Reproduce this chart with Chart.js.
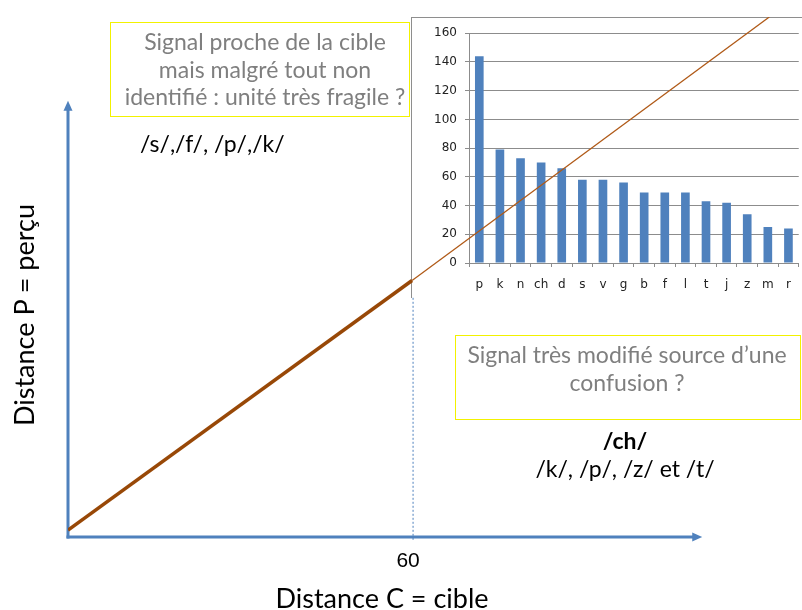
<!DOCTYPE html>
<html><head><meta charset="utf-8">
<script src="https://cdn.jsdelivr.net/npm/chart.js@4.4.1/dist/chart.umd.min.js"></script>
<style>
html,body{margin:0;padding:0;background:#fff;}
#stage{position:relative;width:802px;height:610px;overflow:hidden;background:#fff;font-family:Lato,'Open Sans',sans-serif;}
.abs{position:absolute;}
#insetFrame{left:411px;top:17px;width:391px;height:281px;background:#fff;border-left:1px solid #8e8e8e;border-top:1px solid #8e8e8e;box-sizing:border-box;z-index:1}
#barCanvas{left:412px;top:18px;z-index:2}
#mainCanvas{left:0;top:0;z-index:3;pointer-events:none}
.box{border:1.5px solid #f2f200;box-sizing:border-box;z-index:4}
.note{color:#7f7f7f;text-align:center;font-size:23px;line-height:27.5px;white-space:nowrap;z-index:5}
.txt{color:#000;white-space:nowrap;z-index:5}
</style></head>
<body>
<div id="stage">
  <div id="insetFrame" class="abs"></div>
  <canvas id="barCanvas" class="abs" width="390" height="280"></canvas>
  <canvas id="mainCanvas" class="abs" width="802" height="610"></canvas>

  <div class="abs box" style="left:110px;top:22px;width:300px;height:95px;"></div>
  <div class="abs note" style="left:65px;top:28px;width:400px;">Signal proche de la cible<br>mais malgré tout non<br>identifié : unité très fragile ?</div>

  <div class="abs txt" style="left:140px;top:129px;font-size:23px;line-height:28px;">/s/,/f/, /p/,/k/</div>

  <div class="abs box" style="left:455px;top:335px;width:346px;height:85px;"></div>
  <div class="abs note" style="left:427px;top:340px;width:400px;line-height:28px;">Signal très modifié source d’une<br>confusion ?</div>

  <div class="abs txt" style="left:425px;top:426px;width:400px;text-align:center;font-size:23px;line-height:28px;"><b>/ch/</b><br>/k/, /p/, /z/ et /t/</div>

  <div class="abs txt" style="left:182px;top:582px;width:400px;text-align:center;font-size:27px;line-height:32px;">Distance C = cible</div>
  <div class="abs txt" style="left:-176px;top:299px;width:400px;text-align:center;font-size:27px;line-height:32px;transform:rotate(-90deg);">Distance P = perçu</div>
</div>
<script>
// ---- main diagram data (distance cible vs distance perçue) ----
const mainCible = [0, 60, 122.3];
const mainPercu = [1.2, 44.4, 90];
const mainTickLabels = [60];

// ---- inset bar chart data ----
const phonemes = ['p','k','n','ch','d','s','v','g','b','f','l','t','j','z','m','r'];
const scores = [144, 79, 73, 70, 66, 58, 58, 56, 49, 49, 49, 43, 42, 34, 25, 24];
const scoreTicks = [0, 20, 40, 60, 80, 100, 120, 140, 160];

const BLUE = '#4f81bd';
const GRID = '#8c8c8c';

const axesPlugin = {
  id: 'axesArrows',
  beforeDatasetsDraw(chart) {
    const {ctx, scales: {x, y}} = chart;
    const x0 = x.getPixelForValue(0), y0 = y.getPixelForValue(0);
    const xTip = x.getPixelForValue(110.6), yTip = y.getPixelForValue(75.5);
    ctx.save();
    ctx.strokeStyle = BLUE; ctx.fillStyle = BLUE; ctx.lineWidth = 3;
    ctx.beginPath(); ctx.moveTo(x0, y0 + 1.5); ctx.lineTo(x0, yTip + 8); ctx.stroke();
    ctx.beginPath(); ctx.moveTo(x0, yTip); ctx.lineTo(x0 - 4.5, yTip + 10); ctx.lineTo(x0 + 4.5, yTip + 10); ctx.closePath(); ctx.fill();
    ctx.beginPath(); ctx.moveTo(x0 - 1.5, y0); ctx.lineTo(xTip - 8, y0); ctx.stroke();
    ctx.beginPath(); ctx.moveTo(xTip, y0); ctx.lineTo(xTip - 10, y0 - 4.5); ctx.lineTo(xTip - 10, y0 + 4.5); ctx.closePath(); ctx.fill();
    // dashed guide at C = 60
    const xd = x.getPixelForValue(60) + 1;
    ctx.lineWidth = 1; ctx.setLineDash([2, 2]);
    ctx.beginPath(); ctx.moveTo(xd, y.getPixelForValue(41.4)); ctx.lineTo(xd, y0 + 3); ctx.stroke();
    ctx.setLineDash([]);
    ctx.fillStyle = '#000'; ctx.font = '21px "Liberation Sans"';
    ctx.textAlign = 'center'; ctx.textBaseline = 'middle';
    mainTickLabels.forEach(v => ctx.fillText(String(v), x.getPixelForValue(v) - 4, y0 + 24));
    ctx.restore();
  }
};

new Chart(document.getElementById('mainCanvas'), {
  type: 'line',
  data: {
    datasets: [{
      data: mainCible.map((c, i) => ({x: c, y: mainPercu[i]})),
      borderColor: '#984807',
      pointRadius: 0,
      tension: 0,
      segment: {
        borderWidth: ctx => ctx.p0DataIndex === 0 ? 3.5 : 1.3,
        borderColor: ctx => ctx.p0DataIndex === 0 ? '#984807' : '#b05a18'
      }
    }]
  },
  options: {
    responsive: false, animation: false, events: [],
    layout: {padding: {left: 68, right: 0, top: 17, bottom: 73}},
    plugins: {legend: {display: false}, tooltip: {enabled: false}},
    scales: {
      x: {type: 'linear', min: 0, max: 128, display: false},
      y: {type: 'linear', min: 0, max: 90, display: false}
    }
  },
  plugins: [axesPlugin]
});

new Chart(document.getElementById('barCanvas'), {
  type: 'bar',
  data: {
    labels: phonemes,
    datasets: [{data: scores, backgroundColor: BLUE, barPercentage: 0.42, categoryPercentage: 1}]
  },
  options: {
    responsive: false, animation: false, events: [],
    layout: {padding: {top: 14, right: 3, left: 0, bottom: 0}},
    plugins: {legend: {display: false}, tooltip: {enabled: false}},
    scales: {
      x: {
        grid: {drawOnChartArea: false, drawTicks: true, tickLength: 4, color: GRID, offset: true},
        border: {color: GRID},
        ticks: {font: {family: 'DejaVu Sans', size: 12}, color: '#222', padding: 11, maxRotation: 0, autoSkip: false},
        afterFit(s) { s.height = 35; }
      },
      y: {
        min: 0, max: 160,
        afterBuildTicks(s) { s.ticks = scoreTicks.map(v => ({value: v})); },
        ticks: {font: {family: 'DejaVu Sans', size: 12}, color: '#222', padding: 8},
        grid: {color: GRID, tickLength: 4},
        border: {color: GRID},
        afterFit(s) { s.width = 57; }
      }
    }
  }
});
</script>
</body></html>
